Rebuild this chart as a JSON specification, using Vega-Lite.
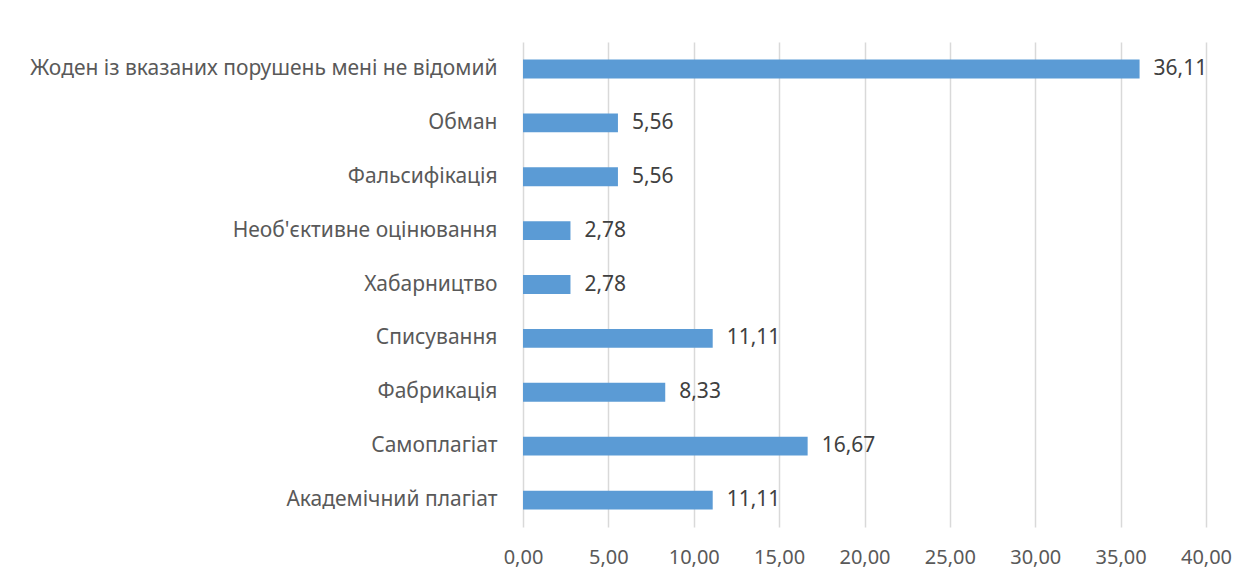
{
  "$schema": "https://vega.github.io/schema/vega-lite/v6.json",
  "autosize": {"type": "none"},
  "width": 683,
  "height": 485,
  "padding": {"left": 523, "top": 42, "right": 46, "bottom": 56},
  "background": "white",
  "config": {
    "locale": {"number": {"decimal": ",", "thousands": " ", "grouping": [3], "currency": ["", ""]}},
    "view": {"stroke": null},
    "font": "Noto Sans"
  },
  "data": {
    "values": [
      {"category": "Жоден із вказаних порушень мені не відомий", "value": 36.11},
      {"category": "Обман", "value": 5.56},
      {"category": "Фальсифікація", "value": 5.56},
      {"category": "Необ'єктивне оцінювання", "value": 2.78},
      {"category": "Хабарництво", "value": 2.78},
      {"category": "Списування", "value": 11.11},
      {"category": "Фабрикація", "value": 8.33},
      {"category": "Самоплагіат", "value": 16.67},
      {"category": "Академічний плагіат", "value": 11.11}
    ]
  },
  "encoding": {
    "y": {
      "field": "category", "type": "nominal", "sort": null,
      "scale": {"paddingInner": 0.65, "paddingOuter": 0.325},
      "axis": {"title": null, "domain": false, "ticks": false, "grid": false, "labelPadding": 26, "labelFontSize": 21, "labelColor": "#595959", "labelFont": "Noto Sans", "labelLimit": 700}
    },
    "x": {
      "field": "value", "type": "quantitative",
      "scale": {"domain": [0, 40], "nice": false},
      "axis": {"title": null, "values": [0, 5, 10, 15, 20, 25, 30, 35, 40], "format": ".2f", "domain": false, "ticks": false, "grid": true, "gridColor": "#D9D9D9", "gridWidth": 1.5, "labelPadding": 20, "labelFontSize": 20, "labelColor": "#595959", "labelFont": "Noto Sans", "labelFlush": false, "labelOverlap": false}
    }
  },
  "layer": [
    {"mark": {"type": "bar", "color": "#5B9BD5"}},
    {"mark": {"type": "text", "align": "left", "dx": 14, "fontSize": 21, "color": "#404040", "font": "Noto Sans"},
     "encoding": {"text": {"field": "value", "type": "quantitative", "format": ".2f"}}}
  ]
}
